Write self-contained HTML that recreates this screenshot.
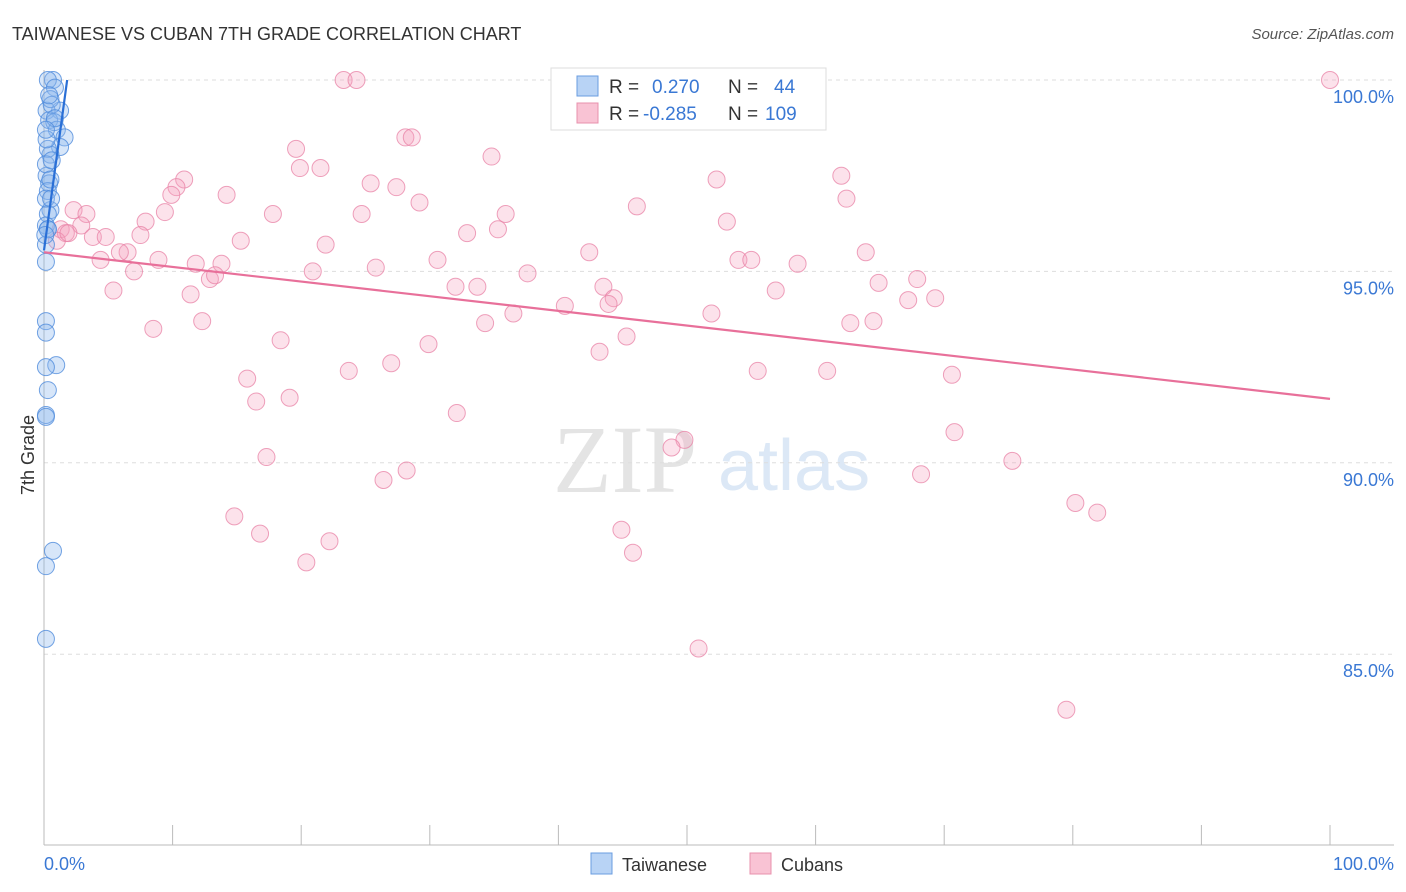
<!DOCTYPE html>
<html><head><meta charset="utf-8"><style>
body{margin:0;background:#fff;font-family:"Liberation Sans",sans-serif;}
svg{display:block}
</style></head><body>
<svg id="c" width="1406" height="892">
<text x="12" y="40" font-size="18" fill="#333">TAIWANESE VS CUBAN 7TH GRADE CORRELATION CHART</text>
<text x="1394" y="39" font-size="15" fill="#555" font-style="italic" text-anchor="end">Source: ZipAtlas.com</text>
<g>
<text x="553" y="492" font-size="96" font-family="Liberation Serif,serif" fill="#e4e4e4">ZIP</text>
<text x="718" y="490" font-size="72" fill="#dce8f6">atlas</text>
</g>
<g id="grid"></g>
<g id="axes"></g>
<g id="marks"></g>
<text transform="translate(34,455) rotate(-90)" font-size="18" fill="#333" text-anchor="middle">7th Grade</text>
<text x="44" y="870" font-size="18" fill="#3a78d4">0.0%</text>
<text x="1394" y="870" font-size="18" fill="#3a78d4" text-anchor="end">100.0%</text>
<g>
<rect x="551" y="68" width="275" height="62" fill="#fff" stroke="#ddd"/>
<rect x="577" y="76" width="21" height="20" fill="#b8d3f5" stroke="#6a9de0"/>
<rect x="577" y="103" width="21" height="20" fill="#f9c3d4" stroke="#e890ad"/>
<text x="609" y="93" font-size="19" fill="#333">R =</text>
<text x="652" y="93" font-size="19" fill="#3a78d4">0.270</text>
<text x="728" y="93" font-size="19" fill="#333">N =</text>
<text x="774" y="93" font-size="19" fill="#3a78d4">44</text>
<text x="609" y="120" font-size="19" fill="#333">R =</text>
<text x="643" y="120" font-size="19" fill="#3a78d4">-0.285</text>
<text x="728" y="120" font-size="19" fill="#333">N =</text>
<text x="765" y="120" font-size="19" fill="#3a78d4">109</text>
</g>
<g>
<rect x="591" y="853" width="21" height="21" fill="#b8d3f5" stroke="#6a9de0"/>
<text x="622" y="871" font-size="18" fill="#333">Taiwanese</text>
<rect x="750" y="853" width="21" height="21" fill="#f9c3d4" stroke="#e890ad"/>
<text x="781" y="871" font-size="18" fill="#333">Cubans</text>
</g>
</svg>
<script>
const yTicks=[100,95,90,85];
const yTickLabels=["100.0%","95.0%","90.0%","85.0%"];
const blueX=[0.7,0.3,0.85,1.25,0.2,0.4,0.8,1.0,1.6,1.25,0.5,0.3,0.2,0.4,0.3,0.5,0.3,0.15,0.3,0.15,0.15,0.15,0.15,0.95,0.15,0.3,0.15,0.15,0.7,0.15,0.15,0.5,0.6,0.2,0.15,0.5,0.15,0.55,0.3,0.1,0.85,0.4,0.15,0.6];
const blueY=[100,100,99.8,99.2,99.2,98.95,98.9,98.7,98.5,98.25,98.05,98.2,97.5,97.3,97.1,96.6,96.5,96.2,96.1,95.7,95.25,93.7,93.4,92.55,92.5,91.9,91.25,91.2,87.7,87.3,85.4,99.5,99.35,98.45,97.8,97.4,96.9,96.9,96.1,95.95,99.0,99.6,98.7,97.9];
const pinkX=[23.3,24.3,100,28.1,28.6,19.6,34.8,19.9,21.5,10.9,10.3,9.9,14.2,25.4,27.4,29.2,52.3,62.0,62.4,46.1,53.1,2.3,3.3,9.4,17.8,24.7,35.9,35.3,32.9,7.9,2.9,1.3,1.7,1.0,1.9,3.8,4.8,7.5,15.3,21.9,42.4,63.9,6.5,5.9,4.4,8.9,11.8,13.8,20.9,25.8,30.6,37.6,54.0,55.0,58.6,7.0,12.9,13.3,5.4,11.4,32.0,33.7,43.5,44.3,43.9,40.5,56.9,64.9,67.9,67.2,69.3,36.5,51.9,8.5,12.3,34.3,62.7,64.5,18.4,29.9,45.3,43.2,27.0,23.7,15.8,55.5,60.9,70.6,19.1,16.5,32.1,70.8,49.8,48.8,17.3,28.2,26.4,68.2,75.3,80.2,81.9,14.8,16.8,22.2,44.9,45.8,20.4,50.9,79.5];
const pinkY=[100,100,100,98.5,98.5,98.2,98.0,97.7,97.7,97.4,97.2,97.0,97.0,97.3,97.2,96.8,97.4,97.5,96.9,96.7,96.3,96.6,96.5,96.55,96.5,96.5,96.5,96.1,96.0,96.3,96.2,96.1,96.0,95.8,96.0,95.9,95.9,95.95,95.8,95.7,95.5,95.5,95.5,95.5,95.3,95.3,95.2,95.2,95.0,95.1,95.3,94.95,95.3,95.3,95.2,95.0,94.8,94.9,94.5,94.4,94.6,94.6,94.6,94.3,94.15,94.1,94.5,94.7,94.8,94.25,94.3,93.9,93.9,93.5,93.7,93.65,93.65,93.7,93.2,93.1,93.3,92.9,92.6,92.4,92.2,92.4,92.4,92.3,91.7,91.6,91.3,90.8,90.6,90.4,90.15,89.8,89.55,89.7,90.05,88.95,88.7,88.6,88.15,87.95,88.25,87.65,87.4,85.15,83.55];
const blueTrend=[[0,95.55],[1.8,100]];
const pinkTrend=[[0,95.5],[100,91.67]];
const NS="http://www.w3.org/2000/svg";
const X=v=>44+v*12.86, Y=v=>80+(100-v)*38.28;
function mk(tag,attrs,parent){const e=document.createElementNS(NS,tag);for(const k in attrs)e.setAttribute(k,attrs[k]);parent.appendChild(e);return e;}
const grid=document.getElementById('grid'),axes=document.getElementById('axes'),marks=document.getElementById('marks');
yTicks.forEach((t,i)=>{
 const l=mk('line',{x1:44,x2:1394,y1:Y(t),y2:Y(t),stroke:'#ddd','stroke-dasharray':'4,4'},grid);
 
 
 const tx=mk('text',{x:1394,y:Y(t)+23,'font-size':18,fill:'#3a78d4','text-anchor':'end'},grid);
 tx.textContent=yTickLabels[i];
 
 
});
const ax=mk('line',{x1:44,x2:44,y1:70,y2:845,stroke:'#bbb'},axes);


const bx=mk('line',{x1:44,x2:1394,y1:845,y2:845,stroke:'#bbb'},axes);


for(let i=0;i<=10;i++){
 const t=mk('line',{x1:X(i*10),x2:X(i*10),y1:825,y2:845,stroke:'#bbb'},axes);
 
 
}
pinkX.forEach((x,i)=>{
 const c=mk('circle',{cx:X(x),cy:Y(pinkY[i]),r:8.5,fill:'rgba(244,160,188,0.3)',stroke:'rgba(232,130,165,0.75)','stroke-width':1},marks);
 
 
});
blueX.forEach((x,i)=>{
 const c=mk('circle',{cx:X(x),cy:Y(blueY[i]),r:8.5,fill:'rgba(140,182,238,0.35)',stroke:'rgba(80,140,220,0.8)','stroke-width':1},marks);
 
 
});
const pl=mk('line',{x1:X(pinkTrend[0][0]),y1:Y(pinkTrend[0][1]),x2:X(pinkTrend[1][0]),y2:Y(pinkTrend[1][1]),stroke:'#e8709a','stroke-width':2.2},marks);


const bl=mk('line',{x1:X(blueTrend[0][0]),y1:Y(blueTrend[0][1]),x2:X(blueTrend[1][0]),y2:Y(blueTrend[1][1]),stroke:'#2a6fd6','stroke-width':2.2},marks);


</script>
</body></html>
